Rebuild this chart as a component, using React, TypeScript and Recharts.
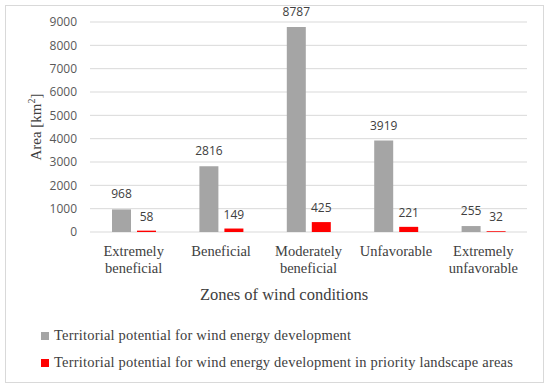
import React from 'react'
import { BarChart, Bar, XAxis, YAxis, CartesianGrid, LabelList } from 'recharts'

// zones of wind conditions (line breaks as in the original axis)
const zones = ['Extremely\nbeneficial', 'Beneficial', 'Moderately\nbeneficial', 'Unfavorable', 'Extremely\nunfavorable']
const totalArea = [968, 2816, 8787, 3919, 255]
const priorityArea = [58, 149, 425, 221, 32]
const yTicks = [0, 1000, 2000, 3000, 4000, 5000, 6000, 7000, 8000, 9000]

const seriesNames = [
  'Territorial potential for wind energy development',
  'Territorial potential for wind energy development in priority landscape areas',
]
const seriesColors = ['#a5a5a5', '#ff0000']

const SERIF = '"Liberation Serif", "Times New Roman", serif'
const SANS = '"Open Sans", "Liberation Sans", sans-serif'

const data = zones.map((zone, i) => ({
  zone,
  total: totalArea[i],
  priority: priorityArea[i],
}))

function ZoneTick({ x, y, payload }: any) {
  const lines = String(payload.value).split('\n')
  return (
    <text x={x} y={y} textAnchor="middle" fontFamily={SERIF} fontSize={14.5} fill="#404040">
      {lines.map((line, i) => (
        <tspan key={i} x={x} dy={i === 0 ? 24 : 17}>
          {line}
        </tspan>
      ))}
    </text>
  )
}

export default function App() {
  return (
    <div style={{ position: 'absolute', left: 0, top: 0, width: 550, height: 389, background: '#fff' }}>
      <div
        style={{
          position: 'absolute',
          left: 5,
          top: 5,
          width: 537,
          height: 376,
          border: '1px solid #d9d9d9',
        }}
      />
      <BarChart
        width={550}
        height={389}
        data={data}
        margin={{ top: 22, right: 23, left: 0, bottom: 0 }}
        barSize={19}
        barGap={6}
      >
        <CartesianGrid vertical={false} stroke="#d9d9d9" />
        <XAxis
          dataKey="zone"
          height={157}
          axisLine={false}
          tickLine={false}
          tickSize={0}
          tickMargin={0}
          interval={0}
          tick={<ZoneTick />}
          label={{
            content: () => (
              <text x={284} y={300} textAnchor="middle" fontFamily={SERIF} fontSize={16.5} fill="#404040">
                Zones of wind conditions
              </text>
            ),
          }}
        />
        <YAxis
          width={90}
          domain={[0, 9000]}
          ticks={yTicks}
          interval={0}
          axisLine={false}
          tickLine={false}
          tickSize={0}
          tickMargin={13}
          tick={{ fontFamily: SANS, fontSize: 12, fill: '#595959' }}
          label={{
            content: () => (
              <text
                x={36}
                y={127}
                transform="rotate(-90, 36, 127)"
                textAnchor="middle"
                dominantBaseline="central"
                fontFamily={SERIF}
                fontSize={15}
                fill="#404040"
              >
                Area [km
                <tspan dy={-5} fontSize={10}>2</tspan>
                <tspan dy={5}>]</tspan>
              </text>
            ),
          }}
        />
        <Bar dataKey="total" fill={seriesColors[0]} isAnimationActive={false}>
          <LabelList dataKey="total" position="top" offset={11} fontFamily={SANS} fontSize={12} fill="#404040" />
        </Bar>
        <Bar dataKey="priority" fill={seriesColors[1]} isAnimationActive={false}>
          <LabelList dataKey="priority" position="top" offset={10} fontFamily={SANS} fontSize={12} fill="#404040" />
        </Bar>
      </BarChart>
      <div
        style={{
          position: 'absolute',
          left: 41,
          top: 322,
          fontFamily: SERIF,
          fontSize: 14.5,
          letterSpacing: 0.2,
          color: '#404040',
        }}
      >
        {seriesNames.map((name, i) => (
          <div key={name} style={{ display: 'flex', alignItems: 'center', height: 27, whiteSpace: 'nowrap' }}>
            <span style={{ display: 'inline-block', width: 8, height: 8, background: seriesColors[i], marginRight: 5 }} />
            {name}
          </div>
        ))}
      </div>
    </div>
  )
}
